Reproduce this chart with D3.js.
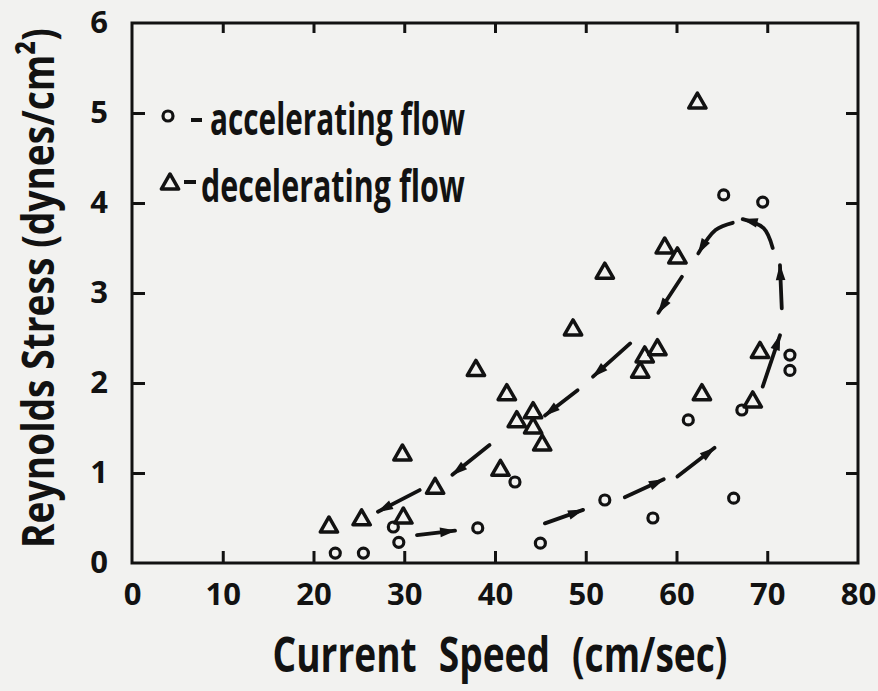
<!DOCTYPE html>
<html>
<head>
<meta charset="utf-8">
<script src="https://cdn.jsdelivr.net/npm/d3@7"></script>
<style>
  html, body { margin: 0; padding: 0; background: #f2f2f0; }
  svg { display: block; }
  text { font-family: "Open Sans", sans-serif; fill: #121212; }
</style>
</head>
<body>
<div class="chart"></div>
<script>
// values
const accelX = [22.4, 25.5, 28.8, 29.4, 38.1, 42.2, 45.0, 52.1, 57.4, 61.3, 65.2, 66.3, 67.2, 69.5, 72.5, 72.5];
const accelY = [0.11, 0.11, 0.40, 0.23, 0.39, 0.90, 0.22, 0.70, 0.50, 1.59, 4.09, 0.72, 1.70, 4.01, 2.31, 2.14];

const decelX = [21.7, 25.3, 29.9, 29.8, 33.4, 37.9, 40.6, 41.3, 42.4, 44.2, 44.2, 45.2, 48.6, 52.1, 56.0, 56.5, 57.9, 58.7, 60.1, 62.3, 62.8, 68.4, 69.2];
const decelY = [0.40, 0.48, 0.50, 1.20, 0.83, 2.14, 1.03, 1.87, 1.57, 1.67, 1.50, 1.31, 2.59, 3.22, 2.12, 2.29, 2.37, 3.50, 3.39, 5.11, 1.87, 1.79, 2.34];

// hand drawn arrows showing the hysteresis loop
const accelArrows = [
  [[31.4, 0.31], [35.6, 0.36]],
  [[45.5, 0.44], [49.7, 0.59]],
  [[54.3, 0.73], [58.6, 0.93]],
  [[60.1, 0.96], [64.2, 1.28]],
  [[69.5, 1.96], [71.4, 2.53]],
  [[71.6, 2.83], [71.4, 3.31]],
  [[70.6, 3.50], [69.6, 3.72], [67.3, 3.82]]
];
const decelArrows = [
  [[66.2, 3.78], [64.3, 3.70], [62.4, 3.44]],
  [[60.6, 3.18], [58.0, 2.78]],
  [[54.9, 2.44], [50.8, 2.07]],
  [[49.1, 1.92], [45.5, 1.64]],
  [[39.4, 1.31], [35.3, 0.98]],
  [[31.7, 0.81], [27.1, 0.57]]
];

const xTicks = [0, 10, 20, 30, 40, 50, 60, 70, 80];
const yTicks = [0, 1, 2, 3, 4, 5, 6];
const topTicks = [10, 20, 30, 40, 50, 60, 70];
const rightTicks = [1, 2, 3, 4, 5];

const width = 878, height = 691;
const ink = "#121212";

const svg = d3.select(".chart").append("svg")
    .attr("width", width)
    .attr("height", height);

svg.append("rect")
    .attr("width", width)
    .attr("height", height)
    .attr("fill", "#f2f2f0");

const x = d3.scaleLinear().domain([0, 80]).range([132, 858]);
const y = d3.scaleLinear().domain([0, 6]).range([563, 23]);

// arrowhead
svg.append("defs").append("marker")
    .attr("id", "head")
    .attr("markerUnits", "userSpaceOnUse")
    .attr("viewBox", "-16 -7 18 14")
    .attr("markerWidth", 18)
    .attr("markerHeight", 14)
    .attr("refX", 0)
    .attr("refY", 0)
    .attr("orient", "auto")
  .append("path")
    .attr("d", "M-15,-4.8 L1,0 L-15,4.8 Z")
    .attr("fill", ink);

// axes (ticks point inward)
const axStyle = g => {
  g.select(".domain").remove();
  g.selectAll(".tick line").attr("stroke", ink).attr("stroke-width", 3);
  g.selectAll(".tick text")
    .attr("font-size", 31)
    .attr("font-weight", 700)
    .attr("fill", ink);
};

svg.append("g")
    .attr("transform", `translate(0,${y(0)})`)
    .call(d3.axisBottom(x).tickValues(xTicks).tickFormat(d3.format("d")).tickSize(-12).tickPadding(20))
    .call(axStyle)
    .call(g => g.selectAll(".tick").filter(d => d === 0 || d === 80).select("line").remove());

svg.append("g")
    .attr("transform", `translate(${x(0)},0)`)
    .call(d3.axisLeft(y).tickValues(yTicks).tickFormat(d3.format("d")).tickSize(-13).tickPadding(24))
    .call(axStyle)
    .call(g => g.selectAll(".tick").filter(d => d === 0 || d === 6).select("line").remove());

svg.append("g")
    .attr("transform", `translate(0,${y(6)})`)
    .call(d3.axisTop(x).tickValues(topTicks).tickSize(-10).tickFormat(""))
    .call(axStyle);

svg.append("g")
    .attr("transform", `translate(${x(80)},0)`)
    .call(d3.axisRight(y).tickValues(rightTicks).tickSize(-12).tickFormat(""))
    .call(axStyle);

// frame
svg.append("rect")
    .attr("x", x(0))
    .attr("y", y(6))
    .attr("width", x(80) - x(0))
    .attr("height", y(0) - y(6))
    .attr("fill", "none")
    .attr("stroke", ink)
    .attr("stroke-width", 3);

// arrows
const line = d3.line()
    .x(d => x(d[0]))
    .y(d => y(d[1]))
    .curve(d3.curveCatmullRom);

svg.append("g")
  .selectAll("path")
  .data(accelArrows.concat(decelArrows))
  .join("path")
    .attr("d", line)
    .attr("fill", "none")
    .attr("stroke", ink)
    .attr("stroke-width", 3.8)
    .attr("stroke-linecap", "round")
    .attr("marker-end", "url(#head)");

// points
const triangle = d3.symbol().type(d3.symbolTriangle).size(130);

svg.append("g")
  .selectAll("path")
  .data(decelX.map((d, i) => [d, decelY[i]]))
  .join("path")
    .attr("transform", d => `translate(${x(d[0])},${y(d[1])})`)
    .attr("d", triangle)
    .attr("fill", "none")
    .attr("stroke", ink)
    .attr("stroke-width", 3.5)
    .attr("stroke-linejoin", "round");

svg.append("g")
  .selectAll("circle")
  .data(accelX.map((d, i) => [d, accelY[i]]))
  .join("circle")
    .attr("cx", d => x(d[0]))
    .attr("cy", d => y(d[1]))
    .attr("r", 5)
    .attr("fill", "none")
    .attr("stroke", ink)
    .attr("stroke-width", 3.2);

// squeeze a text horizontally to a given width (hand lettering is narrow)
function fitWidth(sel, w) {
  const len = sel.node().getComputedTextLength();
  const base = sel.attr("transform") || "";
  sel.attr("transform", `${base} scale(${w / len},1)`);
}

// legend
const legend = svg.append("g");
legend.append("circle")
    .attr("cx", 168).attr("cy", 116).attr("r", 5)
    .attr("fill", "none").attr("stroke", ink).attr("stroke-width", 3.2);
legend.append("line")
    .attr("x1", 191).attr("x2", 202).attr("y1", 120).attr("y2", 120)
    .attr("stroke", ink).attr("stroke-width", 4);
legend.append("text")
    .attr("transform", "translate(210,135)")
    .attr("font-size", 45).attr("font-weight", 700)
    .text("accelerating flow")
    .call(fitWidth, 255);

legend.append("path")
    .attr("transform", "translate(170,184)")
    .attr("d", triangle)
    .attr("fill", "none").attr("stroke", ink).attr("stroke-width", 3.5)
    .attr("stroke-linejoin", "round");
legend.append("line")
    .attr("x1", 184).attr("x2", 196).attr("y1", 182).attr("y2", 182)
    .attr("stroke", ink).attr("stroke-width", 4);
legend.append("text")
    .attr("transform", "translate(201,202)")
    .attr("font-size", 45).attr("font-weight", 700)
    .text("decelerating flow")
    .call(fitWidth, 264);

// axis titles
svg.append("text")
    .attr("transform", "translate(500,672)")
    .attr("text-anchor", "middle")
    .attr("font-size", 48).attr("font-weight", 700)
    .attr("word-spacing", 16)
    .text("Current Speed (cm/sec)")
    .call(fitWidth, 455);

svg.append("text")
    .attr("transform", "translate(54,288) rotate(-90)")
    .attr("text-anchor", "middle")
    .attr("font-size", 45).attr("font-weight", 700)
    .text("Reynolds Stress (dynes/cm²)")
    .call(fitWidth, 520);
</script>
</body>
</html>
